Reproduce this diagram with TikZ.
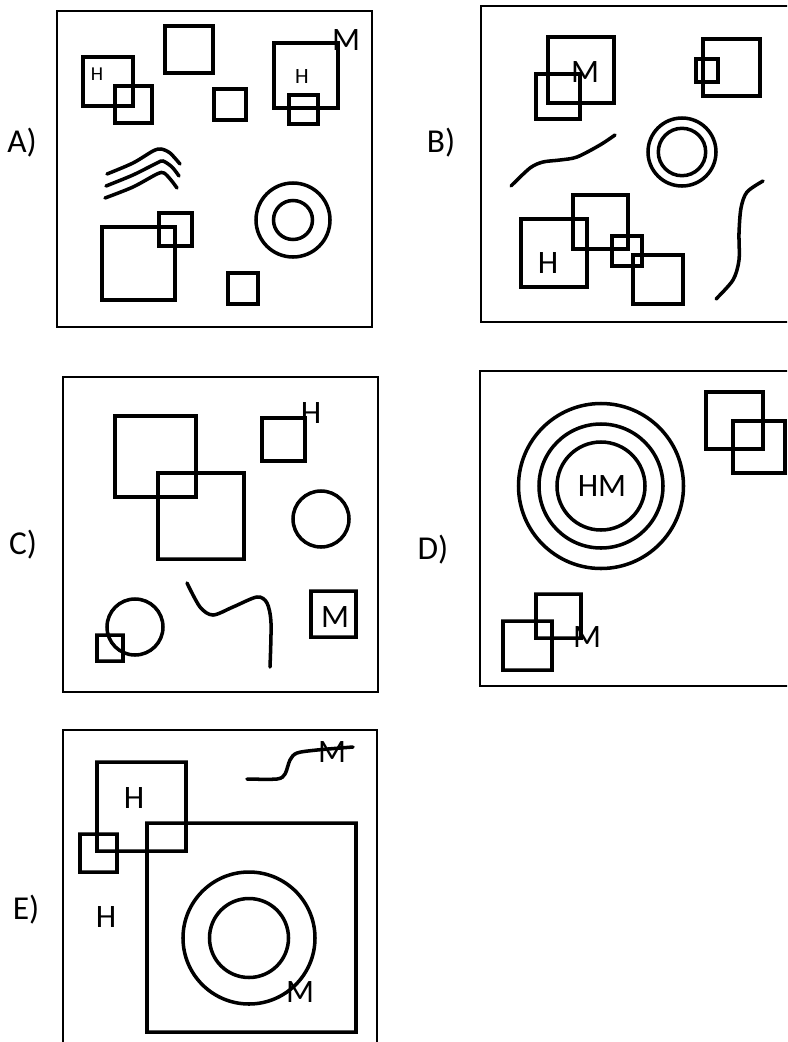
\documentclass[tikz,border=0pt]{standalone}
\usepackage{fontspec}
\setmainfont{Carlito}
\begin{document}
\begin{tikzpicture}[
x=0.01cm,y=-0.01cm,
panel/.style={draw,line width=0.35pt},
fig/.style={draw,line width=1pt},
wave/.style={draw,line width=1pt,line cap=round},
tag/.style={font=\fontsize{9.5}{11}\selectfont,inner sep=0pt},
lbl/.style={font=\fontsize{9.3}{11}\selectfont,inner sep=0pt},
hlbl/.style={font=\fontsize{6.2}{7}\selectfont,inner sep=0pt},
]
\useasboundingbox (0,0) rectangle (787,1042);
\clip (0,0) rectangle (787,1042);
% A
\path[panel] (57,11) rectangle (372,327);
\path[fig]
    (83,57) rectangle (133,106)
    (115,86) rectangle (152,123)
    (165,26) rectangle (213,73)
    (214,89) rectangle (246,120)
    (274,43) rectangle (338,108)
    (289,95) rectangle (318,124)
    (102,227) rectangle (175,300)
    (159,213) rectangle (192,246)
    (228,273) rectangle (258,304)
    (293,220) circle (37) (293,220) circle (19.5);
\path[wave] plot[smooth] coordinates {(107,174) (133,163) (153,151) (161,149) (170,153) (180,164)};
\path[wave] plot[smooth] coordinates {(106,186) (133,175) (157,163) (163,161) (172,167) (179,176)};
\path[wave] plot[smooth] coordinates {(105,198) (133,187) (157,174) (164,173) (171,180) (177,188)};
\node[tag] (tagA) at (22,143) {A)};
\node[hlbl,font=\fontsize{5.6}{6}\selectfont] (hA1) at (97,74) {H};
\node[hlbl] (hA2) at (302,77) {H};
\node[lbl] (mA) at (346,40) {M};
% B
\path[panel] (481,6) rectangle (800,322);
\path[fig]
    (548,37) rectangle (614,103)
    (536,74) rectangle (580,119)
    (703,39) rectangle (760,96)
    (696,59) rectangle (718,82)
    (521,219) rectangle (587,287)
    (573,195) rectangle (628,249)
    (612,236) rectangle (642,266)
    (633,255) rectangle (683,304)
    (682,152) circle (34) (682,152) circle (23.7);
\path[wave] plot[smooth] coordinates {(511,186) (530,168) (543,162) (560,160) (577,157) (600,145) (615,135)};
\path[wave] plot[smooth] coordinates {(763,181) (747,192) (741,208) (739,233) (739,260) (733,280) (716,299)};
\node[tag] (tagB) at (441,143) {B)};
\node[lbl] (mB) at (585,72) {M};
\node[lbl] (hB) at (548,263) {H};
% C
\path[panel] (63,377) rectangle (378,692);
\path[fig]
    (115,416) rectangle (196,497)
    (158,473) rectangle (244,559)
    (262,418) rectangle (305,461)
    (97,635) rectangle (123,661)
    (311,591) rectangle (356,637)
    (321,519) circle (28)
    (135,627) circle (28);
\path[wave] plot[smooth] coordinates {(187,583) (200,607) (213,615) (233,607) (257,597) (267,603) (271,623) (270,667)};
\node[tag] (tagC) at (23,545) {C)};
\node[lbl] (hC) at (311,413) {H};
\node[lbl] (mC) at (335,617) {M};
% D
\path[panel] (480,371) rectangle (800,686);
\path[fig]
    (601,486) circle (82.5) (601,486) circle (62) (601,486) circle (44)
    (706,392) rectangle (763,449)
    (733,421) rectangle (785,473)
    (536,594) rectangle (581,638)
    (503,621) rectangle (552,670);
\node[tag] (tagD) at (433,550) {D)};
\node[lbl] (hmD) at (602,486) {HM};
\node[lbl] (mD) at (587,637) {M};
% E
\path[panel] (63,730) rectangle (377,1100);
\path[fig]
    (97,762) rectangle (186,851)
    (80,834) rectangle (117,872)
    (147,823) rectangle (356,1032)
    (249,938) circle (66) (249,938) circle (39.5);
\path[wave] plot[smooth] coordinates {(247,779) (277,779) (285,774) (290,760) (297,753) (317,750) (353,747)};
\node[tag] (tagE) at (26,910) {E)};
\node[lbl] (hE1) at (134,798) {H};
\node[lbl] (hE2) at (106,917) {H};
\node[lbl] (mE1) at (332,752) {M};
\node[lbl] (mE2) at (300,992) {M};
\end{tikzpicture}
\end{document}
